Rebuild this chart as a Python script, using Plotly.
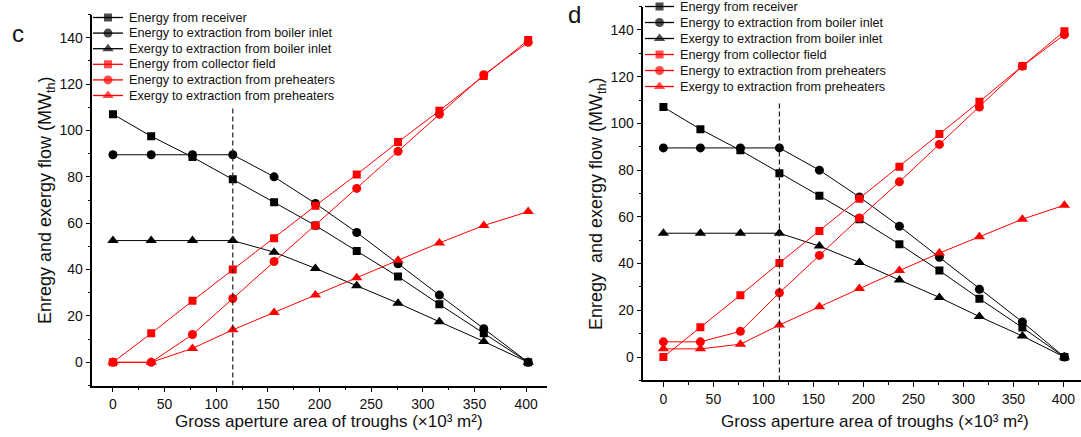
import plotly.graph_objects as go

# ---------------- data ----------------
x_c = [0, 37, 77, 116, 156, 196, 236, 276, 316, 359, 402]
x_d = [0, 37, 77, 116, 156, 196, 236, 276, 316, 359, 401]

series_names = [
    "Energy from receiver",
    "Energy to extraction from boiler inlet",
    "Exergy to extraction from boiler inlet",
    "Energy from collector field",
    "Energy to extraction from preheaters",
    "Exergy to extraction from preheaters",
]

c_receiver = [107, 97.5, 88.5, 79, 69, 59, 48, 37, 25, 12.5, 0]
c_boiler_energy = [89.5, 89.5, 89.5, 89.5, 80, 68.5, 56, 42.5, 29, 14.5, 0]
c_boiler_exergy = [52.5, 52.5, 52.5, 52.5, 47.5, 40.5, 33, 25.5, 17.5, 9, 0]
c_collector = [0, 12.5, 26.5, 40, 53.5, 67.5, 81, 95, 108.5, 123.5, 139]
c_pre_energy = [0, 0, 12, 27.5, 43.5, 59, 75, 91, 107, 124, 138]
c_pre_exergy = [0, 0, 6, 14, 21.5, 29, 36.5, 44, 51.5, 59, 65]

d_receiver = [107, 97.5, 88.5, 78.7, 69, 59, 48.3, 37, 25, 12.6, 0]
d_boiler_energy = [89.5, 89.5, 89.5, 89.5, 80, 68.5, 56, 42.7, 29, 15, 0]
d_boiler_exergy = [53, 53, 53, 53, 47.5, 40.5, 33, 25.5, 17.3, 9, 0]
d_collector = [0, 12.7, 26.5, 40.3, 54, 67.7, 81.5, 95.5, 109.3, 124.6, 139.5]
d_pre_energy = [6.5, 6.5, 11, 27.5, 43.5, 59.5, 75, 91, 107, 124.5, 138]
d_pre_exergy = [3.5, 3.5, 5.5, 13.7, 21.5, 29.3, 37, 44.5, 51.5, 59, 65]

design_area = 116      # vertical dashed marker position
design_top = 110       # top of dashed marker

x_ticks = [0, 50, 100, 150, 200, 250, 300, 350, 400]
y_ticks = [0, 20, 40, 60, 80, 100, 120, 140]

panel_c = [c_receiver, c_boiler_energy, c_boiler_exergy, c_collector, c_pre_energy, c_pre_exergy]
panel_d = [d_receiver, d_boiler_energy, d_boiler_exergy, d_collector, d_pre_energy, d_pre_exergy]

# ---------------- styles ----------------
W, H = 1081, 437
FONT = "Liberation Sans, Arial, sans-serif"
symbols = ["square", "circle", "triangle-up", "square", "circle", "triangle-up"]
colors = ["#000000", "#000000", "#000000", "#ff0000", "#ff0000", "#ff0000"]
msizes = [8, 9, 10, 8, 9, 10]

fig = go.Figure()

def add_panel(xs, data, xa, ya):
    for name, ys, sym, col, ms in zip(series_names, data, symbols, colors, msizes):
        fig.add_trace(go.Scatter(
            x=xs, y=ys, name=name, mode="lines+markers",
            line=dict(color=col, width=1),
            marker=dict(symbol=sym, size=ms, color=col),
            xaxis=xa, yaxis=ya, showlegend=False, hoverinfo="x+y+name"))

add_panel(x_c, panel_c, "x", "y")
add_panel(x_d, panel_d, "x2", "y2")

# legend samples (layout decoration, drawn on a pixel overlay axis)
def add_legend(x0, x1, y_first, step):
    for i, (name, sym, col, ms) in enumerate(zip(series_names, symbols, colors, msizes)):
        yy = y_first + i * step
        fig.add_trace(go.Scatter(
            x=[x0, (x0 + x1) / 2, x1], y=[yy, yy, yy], mode="lines+markers",
            line=dict(color=col, width=1.3),
            marker=dict(symbol=sym, size=[0, ms, 0], color=col, line=dict(width=0)),
            xaxis="x3", yaxis="y3", showlegend=False, hoverinfo="skip"))
        fig.add_annotation(x=x1 + 4, y=yy, xref="x3", yref="y3", text=name,
                           showarrow=False, xanchor="left", yanchor="middle",
                           font=dict(family=FONT, size=12.7, color="#111"))

add_legend(93, 123, 17.5, 15.6)
add_legend(645, 674, 6.5, 16.0)

# axis titles & panel labels
title_font = dict(family=FONT, size=17, color="#111")
x_title = "Gross aperture area of troughs (×10³ m²)"
fig.add_annotation(x=329, y=421, xref="x3", yref="y3", showarrow=False,
                   text=x_title, font=title_font)
fig.add_annotation(x=875, y=421, xref="x3", yref="y3", showarrow=False,
                   text=x_title, font=title_font)
fig.add_annotation(x=46, y=200, xref="x3", yref="y3", showarrow=False, textangle=-90,
                   text="Enregy and exergy flow (MW<sub>th</sub>)", font=dict(family=FONT, size=18, color="#111"))
fig.add_annotation(x=597, y=204, xref="x3", yref="y3", showarrow=False, textangle=-90,
                   text="Enregy\u00a0 and exergy flow (MW<sub>th</sub>)", font=dict(family=FONT, size=18, color="#111"))
fig.add_annotation(x=17.5, y=33, xref="x3", yref="y3", showarrow=False, text="c",
                   font=dict(family=FONT, size=24, color="#111"))
fig.add_annotation(x=574, y=14, xref="x3", yref="y3", showarrow=False, text="d",
                   font=dict(family=FONT, size=24, color="#111"))

# dashed design lines
for xa, ya, top in [("x", "y", design_top), ("x2", "y2", design_top - 1.5)]:
    fig.add_shape(type="line", xref=xa, yref=ya, x0=design_area, x1=design_area,
                  y0=-10, y1=top, line=dict(color="#222", width=1.2, dash="5px,3px"))

tick_font = dict(family=FONT, size=14, color="#111")
xcommon = dict(showline=True, linecolor="#000", linewidth=1.5, ticks="outside", ticklen=5,
               tickwidth=1.2, tickcolor="#000", tickvals=x_ticks, showgrid=False, zeroline=False,
               tickfont=tick_font, minor=dict(ticks="outside", ticklen=3, dtick=25, tick0=0,
                                              tickcolor="#000", tickwidth=1.2, showgrid=False),
               mirror=False, fixedrange=True)
ycommon = dict(showline=True, linecolor="#000", linewidth=1.5, ticks="outside", ticklen=5,
               tickwidth=1.2, tickcolor="#000", tickvals=y_ticks, showgrid=False, zeroline=False,
               tickfont=tick_font, minor=dict(ticks="outside", ticklen=3, dtick=10, tick0=0,
                                              tickcolor="#000", tickwidth=1.2, showgrid=False),
               mirror=False, range=[-10, 150], fixedrange=True)

fig.update_layout(
    width=W, height=H,
    margin=dict(l=0, r=0, t=0, b=0),
    paper_bgcolor="white", plot_bgcolor="rgba(0,0,0,0)",
    showlegend=False,
    xaxis=dict(domain=[92.3 / W, 547.3 / W], range=[-20, 420.5], anchor="y", **xcommon),
    yaxis=dict(domain=[(H - 385.5) / H, (H - 14.5) / H], anchor="x", **ycommon),
    xaxis2=dict(domain=[643.4 / W, 1.0], range=[-20, 417.6], anchor="y2", **xcommon),
    yaxis2=dict(domain=[(H - 380.4) / H, (H - 6.6) / H], anchor="x2", **ycommon),
    xaxis3=dict(domain=[0, 1], range=[0, W], visible=False, fixedrange=True, anchor="y3"),
    yaxis3=dict(domain=[0, 1], range=[H, 0], visible=False, fixedrange=True, anchor="x3"),
)

fig.write_html("out.html")
